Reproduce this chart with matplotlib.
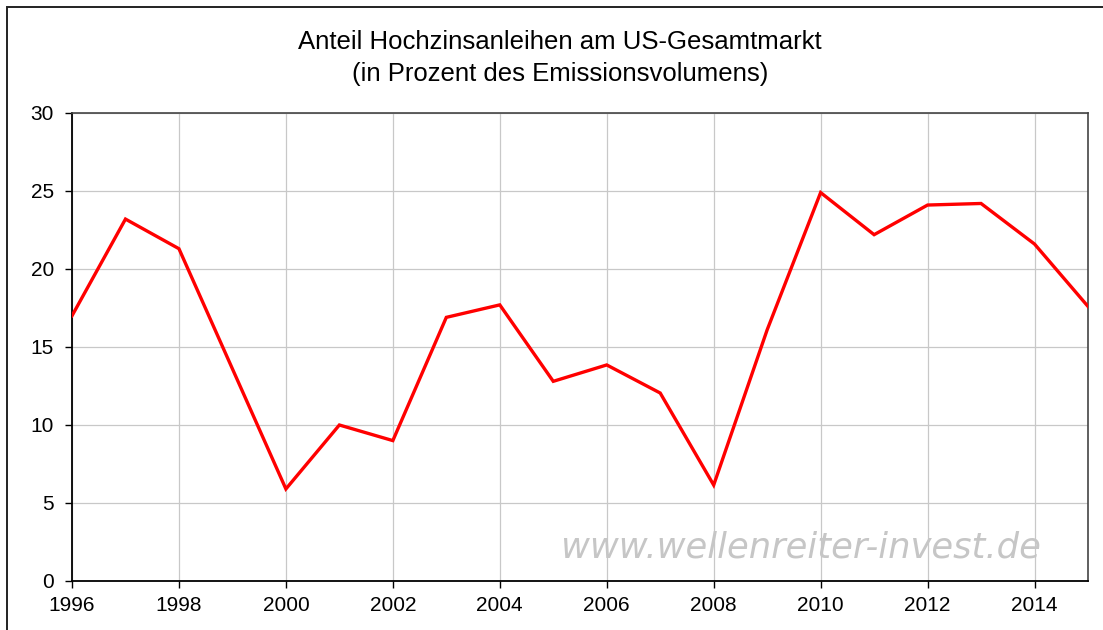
import matplotlib
matplotlib.use("Agg")
import matplotlib.pyplot as plt
from matplotlib.patches import Rectangle

years = list(range(1996, 2016))
share = [17.0, 23.2, 21.3, 13.6, 5.9, 10.0, 9.0, 16.9, 17.7, 12.8,
         13.85, 12.05, 6.15, 16.1, 24.9, 22.2, 24.1, 24.2, 21.6, 17.6]
xticks = list(range(1996, 2015, 2))
yticks = [0, 5, 10, 15, 20, 25, 30]
title_lines = ["Anteil Hochzinsanleihen am US-Gesamtmarkt",
               "(in Prozent des Emissionsvolumens)"]
watermark = "www.wellenreiter-invest.de"

plt.rcParams['font.family'] = ['Liberation Sans', 'DejaVu Sans']

fig = plt.figure(figsize=(11.03, 6.30), dpi=100)
fig.patch.set_facecolor('white')
fig.add_artist(Rectangle((6.5/1103, -0.1), 1.2, 1.1 - 7/630 + 0.0,
                         transform=fig.transFigure, fill=False,
                         edgecolor='#222222', linewidth=1.4))

ax = fig.add_axes([72/1103, 49/630, (1088-72)/1103, (581-113)/630])
ax.plot(years, share, color='#ff0000', linewidth=2.4, solid_joinstyle='miter', zorder=3)
ax.set_xlim(1996, 2015)
ax.set_ylim(0, 30)
ax.set_xticks(xticks)
ax.set_yticks(yticks)
ax.grid(True, color='#c8c8c8', linewidth=0.9)
ax.set_axisbelow(True)
ax.tick_params(axis='both', labelsize=15, length=5, width=1, color='black', direction='out')
ax.tick_params(axis='x', pad=6)
ax.tick_params(axis='y', pad=8)
for s in ['left', 'bottom']:
    ax.spines[s].set_color('black')
    ax.spines[s].set_linewidth(1.3)
for s in ['right', 'top']:
    ax.spines[s].set_color('#444444')
    ax.spines[s].set_linewidth(1.2)

fig.text(560/1103, 1 - 42/630, title_lines[0], ha='center', va='center', fontsize=18.5)
fig.text(560/1103, 1 - 74/630, title_lines[1], ha='center', va='center', fontsize=18.5)
ax.text((801-72)/1016, (581-548)/468, watermark, transform=ax.transAxes,
        ha='center', va='center', fontsize=25.5, style='italic', color='#c6c6c6',
        zorder=2, family=['DejaVu Sans'])

fig.savefig('out.png', dpi=100)
